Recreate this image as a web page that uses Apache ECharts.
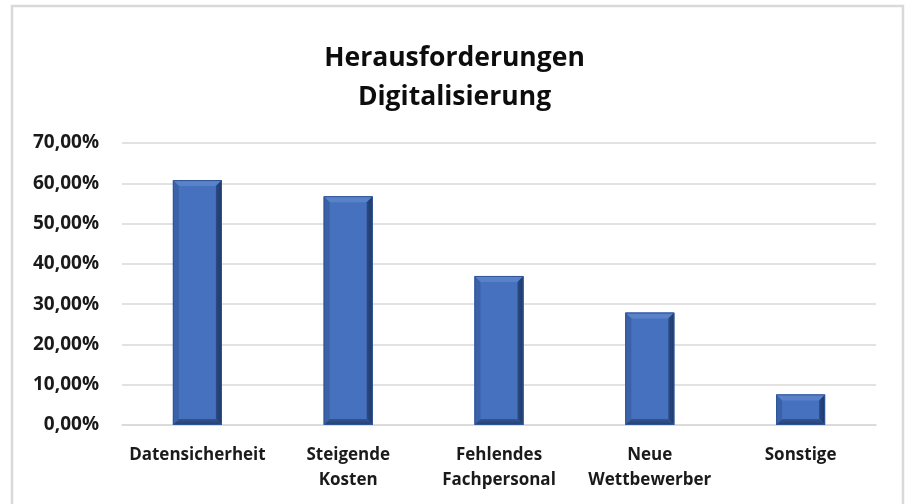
<!DOCTYPE html>
<html>
<head>
<meta charset="utf-8">
<script src="https://cdn.jsdelivr.net/npm/echarts@6/dist/echarts.min.js"></script>
<style>
html,body{margin:0;padding:0;background:#fff;}
#chart{width:909px;height:504px;}
</style>
</head>
<body>
<div id="chart"></div>
<script>
const titleText = 'Herausforderungen\nDigitalisierung';
const categories = ['Datensicherheit', 'Steigende\nKosten', 'Fehlendes\nFachpersonal', 'Neue\nWettbewerber', 'Sonstige'];
const values = [0.608, 0.568, 0.370, 0.279, 0.076];
const yTicks = [0, 0.1, 0.2, 0.3, 0.4, 0.5, 0.6, 0.7];

const chart = echarts.init(document.getElementById('chart'), null, {renderer: 'canvas'});

function renderBar(params, api) {
  const v = api.value(1);
  const top = api.coord([api.value(0), v]);
  const base = api.coord([api.value(0), 0]);
  const band = api.size([1, 0])[0];
  const w = band * 0.325;
  const x = top[0] - w / 2;
  const y = top[1];
  const h = base[1] - top[1];
  const b = Math.min(6, h / 4);
  const x2 = x + w, y2 = y + h;
  return {
    type: 'group',
    children: [
      {type: 'rect', shape: {x: x, y: y, width: w, height: h}, style: {fill: '#4671be'}},
      {type: 'polygon', shape: {points: [[x, y], [x2, y], [x2 - b, y + b], [x + b, y + b]]}, style: {fill: '#5a82c8'}},
      {type: 'polygon', shape: {points: [[x, y], [x + b, y + b], [x + b, y2 - b], [x, y2]]}, style: {fill: '#3b62a8'}},
      {type: 'polygon', shape: {points: [[x2, y], [x2, y2], [x2 - b, y2 - b], [x2 - b, y + b]]},
        style: {fill: new echarts.graphic.LinearGradient(0, 0, 1, 0, [{offset: 0, color: '#2a4a85'}, {offset: 1, color: '#1e3867'}])}},
      {type: 'polygon', shape: {points: [[x, y2], [x + b, y2 - b], [x2 - b, y2 - b], [x2, y2]]},
        style: {fill: new echarts.graphic.LinearGradient(0, 0, 0, 1, [{offset: 0, color: '#32558f'}, {offset: 1, color: '#253f70'}])}},
      {type: 'rect', shape: {x: x + 0.5, y: y + 0.5, width: w - 1, height: h - 1}, style: {fill: null, stroke: '#2f5597', lineWidth: 1}}
    ]
  };
}

const option = {
  backgroundColor: '#ffffff',
  animation: false,
  graphic: [{
    type: 'rect',
    shape: {x: 12, y: 6, width: 891, height: 505},
    style: {fill: null, stroke: '#d9d9d9', lineWidth: 2.5}
  }],
  title: {
    text: titleText,
    left: 'center',
    top: 34,
    textStyle: {
      fontFamily: 'Open Sans',
      fontWeight: 'bold',
      fontSize: 26.5,
      lineHeight: 39,
      color: '#0d0d0d'
    }
  },
  grid: {left: 122, right: 33, top: 143, bottom: 79},
  xAxis: {
    type: 'category',
    data: categories,
    boundaryGap: true,
    axisLine: {show: true, lineStyle: {color: '#d9d9d9', width: 1.5}},
    axisTick: {show: false},
    axisLabel: {
      interval: 0,
      margin: 18,
      fontFamily: 'Open Sans',
      fontWeight: 'bold',
      fontSize: 17,
      lineHeight: 25,
      color: '#1a1a1a'
    }
  },
  yAxis: {
    type: 'value',
    min: yTicks[0],
    max: yTicks[yTicks.length - 1],
    interval: 0.1,
    axisLine: {show: false},
    axisTick: {show: false},
    splitLine: {lineStyle: {color: '#d9d9d9', width: 1.5}},
    axisLabel: {
      margin: 23,
      fontFamily: 'Open Sans',
      fontWeight: 'bold',
      fontSize: 19,
      color: '#1a1a1a',
      formatter: function (v) { return (v * 100).toFixed(2).replace('.', ',') + '%'; }
    }
  },
  series: [{
    type: 'custom',
    renderItem: renderBar,
    encode: {x: 0, y: 1},
    data: values.map(function (v, i) { return [i, v]; })
  }]
};

chart.setOption(option);
</script>
</body>
</html>
